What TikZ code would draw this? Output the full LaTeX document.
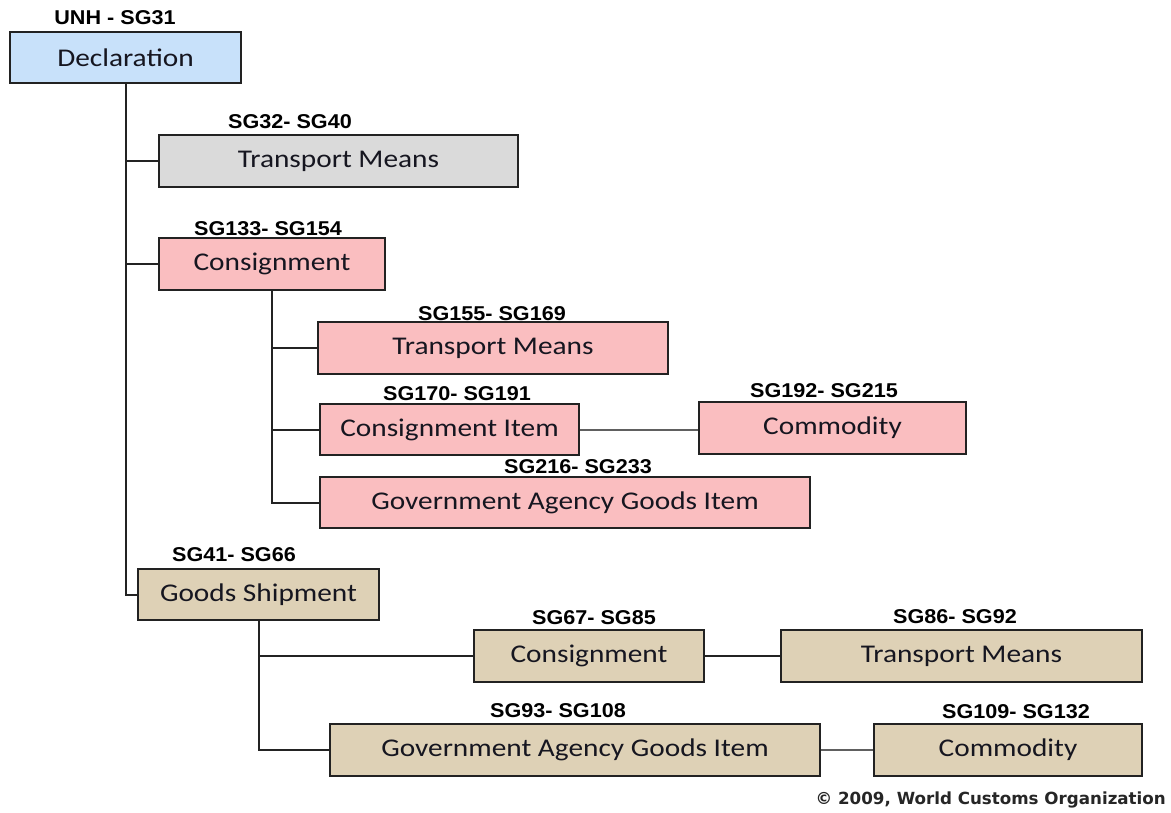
\documentclass[tikz,border=0pt]{standalone}
\usepackage{fontspec}
\newfontfamily\boxfont[FakeStretch=1.15]{Carlito}
\newfontfamily\labfont[FakeStretch=1.08]{Liberation Sans}
\newfontfamily\notefont{DejaVu Sans}
\definecolor{declblue}{RGB}{200,225,250}
\definecolor{transgray}{RGB}{218,218,218}
\definecolor{conspink}{RGB}{250,190,192}
\definecolor{goodstan}{RGB}{222,209,182}
\definecolor{edge}{RGB}{34,34,34}
\definecolor{wire}{RGB}{35,35,35}
\definecolor{textdark}{RGB}{22,22,32}
\tikzset{
  box/.style={draw=edge, line width=1.7pt, rectangle, inner sep=0pt,
    font=\boxfont\fontsize{25.5}{28}\selectfont, text=textdark},
  lab/.style={inner sep=0pt, font=\labfont\bfseries\fontsize{20}{22}\selectfont, text=black},
  wirestyle/.style={draw=wire, line width=2pt},
  softwire/.style={draw=gray!75!black, line width=2pt}
}
\begin{document}
\begin{tikzpicture}[x=1pt, y=-1pt]
\useasboundingbox (0,0) rectangle (1171,812);
\fill[white] (0,0) rectangle (1171,812);

% boxes
\node[box, fill=declblue, minimum width=231pt, minimum height=51pt] (decl) at (125.5,57.5) {Declaration};
\node[box, fill=transgray, minimum width=359pt, minimum height=52pt] (tm1) at (338.5,161) {Transport Means};
\node[box, fill=conspink, minimum width=226pt, minimum height=52pt] (cons1) at (272,264) {Consignment};
\node[box, fill=conspink, minimum width=350pt, minimum height=52pt] (tm2) at (493,348) {Transport Means};
\node[box, fill=conspink, minimum width=259pt, minimum height=51pt] (citem) at (449.5,429.5) {Consignment Item};
\node[box, fill=conspink, minimum width=267pt, minimum height=52pt] (comm1) at (832.5,428) {Commodity};
\node[box, fill=conspink, minimum width=490pt, minimum height=51pt] (gov1) at (565,502.5) {Government Agency Goods Item};
\node[box, fill=goodstan, minimum width=241pt, minimum height=51pt] (gship) at (258.5,594.5) {Goods Shipment};
\node[box, fill=goodstan, minimum width=230pt, minimum height=52pt] (cons2) at (589,656) {Consignment};
\node[box, fill=goodstan, minimum width=361pt, minimum height=52pt] (tm3) at (961.5,656) {Transport Means};
\node[box, fill=goodstan, minimum width=490pt, minimum height=52pt] (gov2) at (575,750) {Government Agency Goods Item};
\node[box, fill=goodstan, minimum width=268pt, minimum height=52pt] (comm2) at (1008,750) {Commodity};

% segment ranges
\node[lab] (decl-l) at (115,18) {UNH - SG31};
\node[lab] (tm1-l) at (290,122) {SG32- SG40};
\node[lab] (cons1-l) at (268,229) {SG133- SG154};
\node[lab] (tm2-l) at (492,314) {SG155- SG169};
\node[lab] (citem-l) at (457,394) {SG170- SG191};
\node[lab] (comm1-l) at (824,391) {SG192- SG215};
\node[lab] (gov1-l) at (578,467) {SG216- SG233};
\node[lab] (gship-l) at (234,555) {SG41- SG66};
\node[lab] (cons2-l) at (594,618) {SG67- SG85};
\node[lab] (tm3-l) at (955,617) {SG86- SG92};
\node[lab] (gov2-l) at (558,711) {SG93- SG108};
\node[lab] (comm2-l) at (1016,712) {SG109- SG132};

% connectors
\draw[wirestyle] (decl.south) |- (gship.west);
\draw[wirestyle] (decl.south |- tm1.west) -- (tm1.west);
\draw[wirestyle] (decl.south |- cons1.west) -- (cons1.west);
\draw[wirestyle] (cons1.south) |- (gov1.west);
\draw[wirestyle] (cons1.south |- tm2.west) -- (tm2.west);
\draw[wirestyle] (cons1.south |- citem.west) -- (citem.west);
\draw[softwire] (citem.east) -- (citem.east -| comm1.west);
\draw[wirestyle] (gship.south) |- (gov2.west);
\draw[wirestyle] (gship.south |- cons2.west) -- (cons2.west);
\draw[wirestyle] (cons2.east) -- (tm3.west);
\draw[softwire] (gov2.east) -- (comm2.west);

% credit line
\node[anchor=east, inner sep=0pt, font=\notefont\bfseries\fontsize{16.7}{19}\selectfont, text=black!85] (credit) at (1166,800) {\textcopyright{} 2009, World Customs Organization};
\end{tikzpicture}
\end{document}
